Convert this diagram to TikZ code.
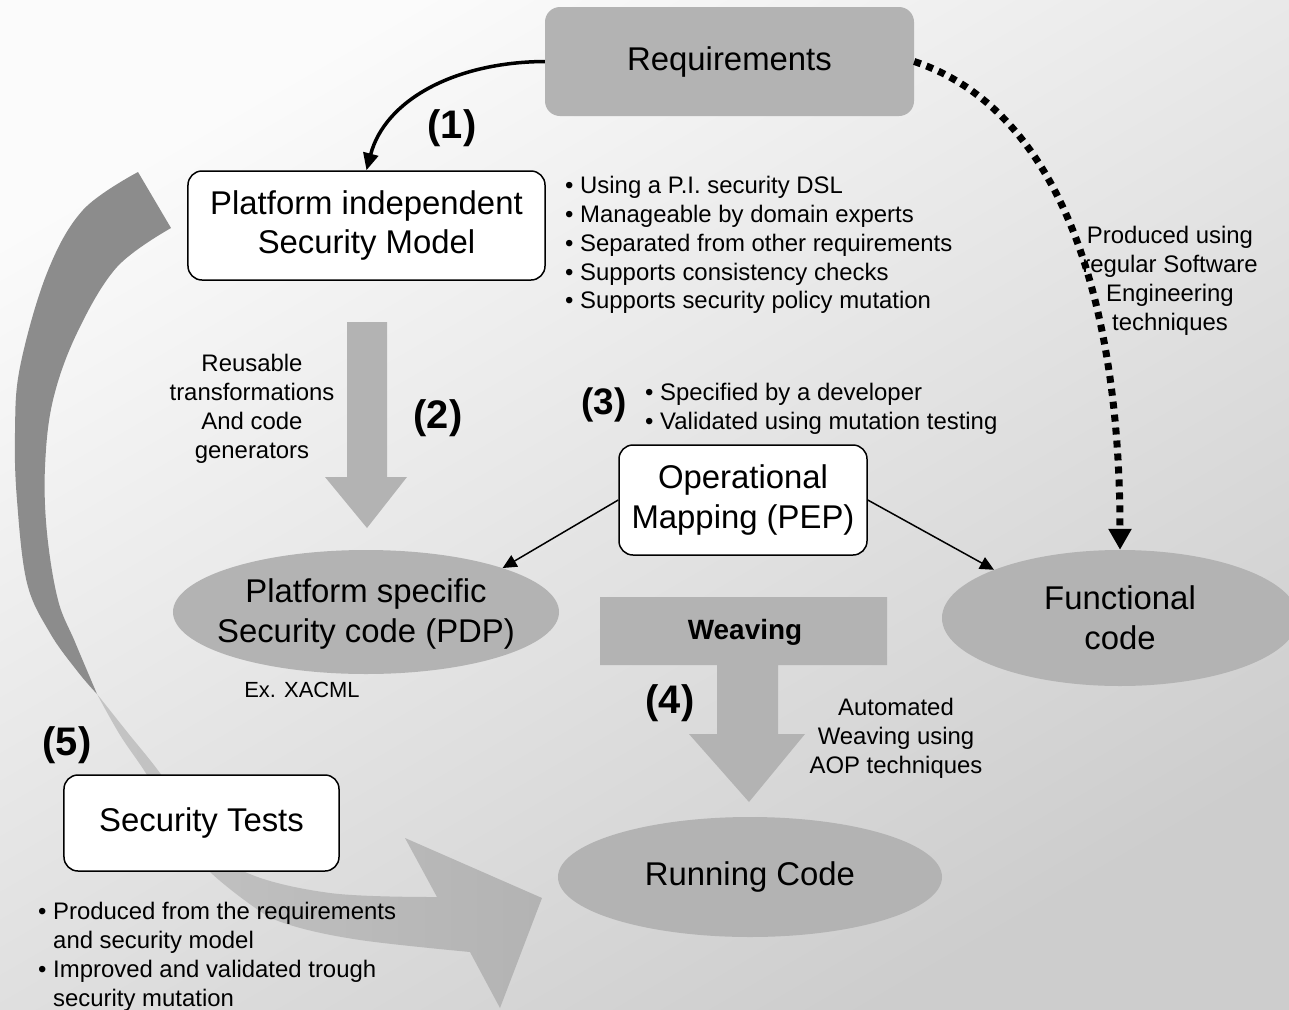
\documentclass[tikz,border=0pt]{standalone}
\usepackage{fontspec}
\setmainfont{Liberation Sans}
\usetikzlibrary{arrows.meta,shapes.geometric}
\definecolor{boxgray}{HTML}{B3B3B3}
\definecolor{darkband}{HTML}{8C8C8C}
\definecolor{bandlight}{HTML}{C4C4C4}
\definecolor{bgtop}{HTML}{FBFBFB}
\definecolor{bgbot}{HTML}{CDCDCD}
\newcommand\fsz[2]{\fontsize{#1}{#2}\selectfont}
\begin{document}
\begin{tikzpicture}[x=1bp,y=-1bp,
  whitebox/.style={draw=black, line width=1.5bp, fill=white, rounded corners=14bp, inner sep=0pt},
  graybox/.style={fill=boxgray, rounded corners=15bp, inner sep=0pt},
  ellbox/.style={ellipse, fill=boxgray, inner sep=0pt},
  bigtxt/.style={font=\fsz{33}{40}, align=center, text=black},
  smalltxt/.style={font=\fsz{24}{29}, align=center, inner sep=0pt},
  bul/.style={font=\fsz{24}{29}, align=left, anchor=west, inner sep=0pt},
  numlbl/.style={font=\fsz{40}{48}\bfseries, inner sep=0pt},
  thinarrow/.style={line width=1.5bp, -{Triangle[length=14bp,width=13bp]}},
]
\useasboundingbox (0,0) rectangle (1289,1010);
% background
\shade[top color=bgtop, bottom color=bgbot, shading angle=30] (0,0) rectangle (1289,1010);

% big curved arrow (5): back side (dark)
\fill[darkband] plot[smooth, tension=0.6] coordinates {(138,172) (83,210) (47,273) (20,367) (15,433) (17,500) (27,583) (50,633) (78,672) (97,694)}
  -- plot[smooth, tension=0.6] coordinates {(97,694) (75,642) (58,600) (47,533) (45,467) (53,400) (77,333) (117,267) (171,228)} -- cycle;
% front side (light) with head
\shade[left color=bandlight, right color=boxgray]
  plot[smooth, tension=0.6] coordinates {(97,694) (128,733) (160,773) (200,830) (243,871) (330,893) (437,897)}
  -- (405,838) -- (542,898) -- (500,1008) -- (470,952)
  -- plot[smooth, tension=0.6] coordinates {(470,952) (360,940) (290,925) (254,907) (200,862) (165,810) (147,775) (120,735) (97,694)} -- cycle;

% block arrow (2)
\fill[boxgray] (347,322) -- (387,322) -- (387,477) -- (407,477) -- (367,528) -- (325,477) -- (347,477) -- cycle;
% weaving arrow (4)
\fill[boxgray] (600,597) -- (887,597) -- (887,665) -- (778,665) -- (778,734) -- (805,734) -- (749,802) -- (689,734) -- (717,734) -- (717,665) -- (600,665) -- cycle;
\node[font=\fsz{28}{34}\bfseries, inner sep=0pt] (weavetxt) at (745,632) {Weaving};

% main nodes
\node[graybox, bigtxt, minimum width=369bp, minimum height=109bp] (req) at (729.5,61.5) {Requirements};
\node[whitebox, bigtxt, minimum width=357bp, minimum height=109bp] (pim) at (366.5,225.5) {Platform independent\\Security Model};
\node[whitebox, bigtxt, minimum width=248bp, minimum height=110bp] (om) at (743,500) {Operational\\Mapping (PEP)};
\node[ellbox, minimum width=386bp, minimum height=124bp] (pdp) at (366,612) {};
\node[bigtxt, inner sep=0pt] (pdptxt) at (366,614) {Platform specific\\Security code (PDP)};
\node[ellbox, bigtxt, minimum width=356bp, minimum height=136bp] (func) at (1120,618) {Functional\\code};
\node[ellbox, bigtxt, minimum width=384bp, minimum height=120bp] (run) at (750,877) {Running Code};
\node[whitebox, bigtxt, minimum width=275bp, minimum height=96bp] (sec) at (201.5,823) {Security Tests};

% connectors
\draw[line width=3.5bp, -{Triangle[length=17bp,width=15bp]}] (req.west) .. controls (455,62) and (385,100) .. (pim.north);
\draw[line width=7bp, dash pattern=on 7bp off 6bp, -{Triangle[length=21bp,width=22bp]}] (req.east) .. controls (1060,110) and (1120,300) .. (func.north);
\draw[thinarrow] (om.west) -- (pdp.north east);
\draw[thinarrow] (om.east) -- (func.north west);

% step labels
\node[numlbl] (n1) at (452,128) {(1)};
\node[numlbl] (n2) at (438,418) {(2)};
\node[numlbl, font=\fsz{37}{44}\bfseries] (n3) at (604,405) {(3)};
\node[numlbl] (n4) at (670,703) {(4)};
\node[numlbl] (n5) at (67,745) {(5)};

% notes
\node[bul] (pimnotes) at (565,245) {• Using a P.I. security DSL\\• Manageable by domain experts\\• Separated from other requirements\\• Supports consistency checks\\• Supports security policy mutation};
\node[bul] (omnotes) at (645,409) {• Specified by a developer\\• Validated using mutation testing};
\node[smalltxt] (fctnote) at (1170,281) {Produced using\\regular Software\\Engineering\\techniques};
\node[smalltxt] (trnote) at (252,409) {Reusable\\transformations\\And code\\generators};
\node[smalltxt] (wvnote) at (896,738) {Automated\\Weaving using\\AOP techniques};
\node[font=\fsz{22}{26}, inner sep=0pt] (xacml) at (302,690) {Ex. XACML};
\node[bul] (stnotes) at (38,957) {• Produced from the requirements\\\phantom{• }and security model\\• Improved and validated trough\\\phantom{• }security mutation};
\end{tikzpicture}
\end{document}
